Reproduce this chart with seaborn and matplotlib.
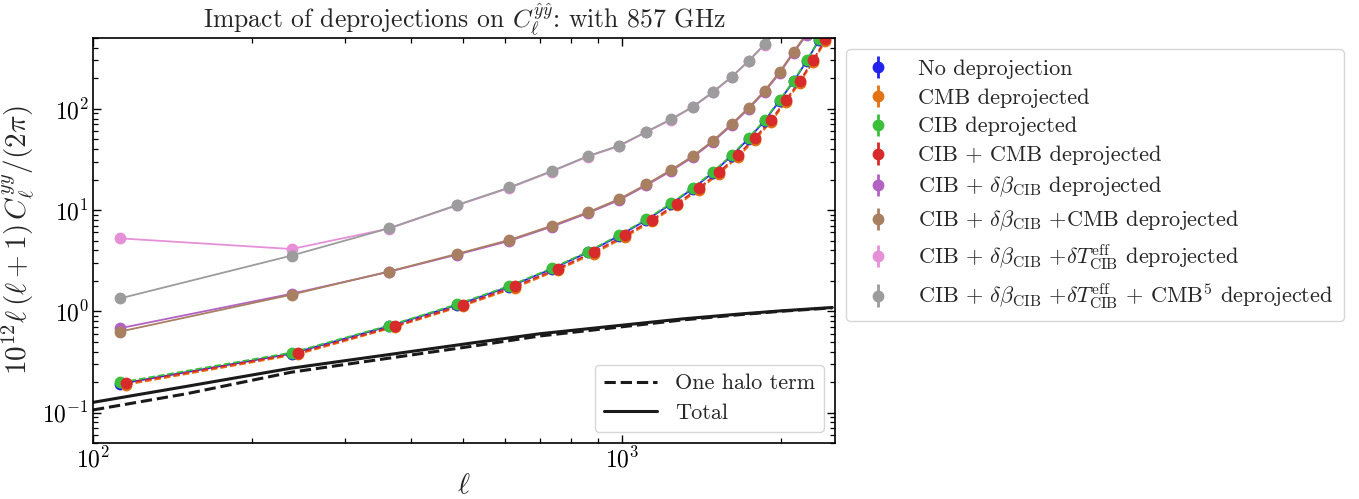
import numpy as np
import matplotlib
matplotlib.use("Agg")
import matplotlib.pyplot as plt
from matplotlib.ticker import LogLocator, NullFormatter
import seaborn as sns

# ---------------- data ----------------
ell = [112.5, 237.5, 362.5, 487.5, 612.5, 737.5, 862.5, 987.5, 1112.5, 1237.5,
       1362.5, 1487.5, 1612.5, 1737.5, 1862.5, 1987.5, 2112.5, 2237.5, 2362.5, 2487.5]

no_dep   = [0.192, 0.382, 0.712, 1.15, 1.75, 2.62, 3.82, 5.55, 7.95, 11.4,
            16.3, 23.4, 34.2, 50.8, 76.0, 120, 186, 297, 480, 770]
cmb_dep  = [0.188, 0.376, 0.700, 1.13, 1.71, 2.56, 3.72, 5.40, 7.75, 11.1,
            15.9, 22.8, 33.2, 49.3, 73.5, 116, 180, 288, 465, 745]
cib_dep  = [0.198, 0.391, 0.722, 1.17, 1.78, 2.66, 3.88, 5.66, 8.09, 11.6,
            16.6, 23.9, 34.9, 51.8, 77.4, 122, 189, 302, 488, 785]
cib_cmb  = [0.194, 0.386, 0.715, 1.16, 1.77, 2.64, 3.86, 5.62, 8.05, 11.55,
            16.5, 23.8, 34.7, 51.5, 77.0, 121, 188, 300, 485, 780]
cib_beta = [0.68, 1.49, 2.45, 3.62, 4.95, 6.85, 9.3, 12.5, 17.5, 24.2,
            33.3, 47.2, 68.8, 100, 147, 224, 357, 540, 860, 1350]
cib_beta_cmb = [0.63, 1.46, 2.47, 3.68, 5.06, 7.0, 9.5, 12.8, 17.9, 24.8,
                34.1, 48.4, 70.6, 102.5, 151, 230, 366, 555, 880, 1380]
cib_beta_T = [5.25, 4.12, 6.55, 11.1, 16.5, 24.0, 33.7, 42.7, 58.7, 77.7,
              104, 145, 205, 295, 430, 640, 950, 1400, 2100, 3100]
cib_beta_T_cmb = [1.34, 3.55, 6.6, 11.2, 16.7, 24.3, 34.1, 43.2, 59.4, 78.6,
                  105, 147, 207, 298, 435, 645, 960, 1420, 2130, 3150]

ell_theory = [100, 150, 237, 350, 516, 700, 1081, 1300, 1671, 2000, 2500]
total      = [0.126, 0.181, 0.274, 0.364, 0.483, 0.60, 0.76, 0.84, 0.94, 1.01, 1.09]
one_halo   = [0.106, 0.153, 0.250, 0.335, 0.448, 0.57, 0.735, 0.82, 0.925, 1.0, 1.08]

labels = [
    "No deprojection",
    "CMB deprojected",
    "CIB deprojected",
    "CIB + CMB deprojected",
    r"CIB + $\delta\beta_{\rm CIB}$ deprojected",
    r"CIB + $\delta\beta_{\rm CIB}$ +CMB deprojected",
    r"CIB + $\delta\beta_{\rm CIB}$ +$\delta T_{\rm CIB}^{\rm eff}$ deprojected",
    r"CIB + $\delta\beta_{\rm CIB}$ +$\delta T_{\rm CIB}^{\rm eff}$ + CMB$^5$ deprojected",
]
colors = ["#2323ee", "#e27214", "#3cc03c", "#d82a2a",
          "#b262c2", "#a97f62", "#e690d8", "#9c9c9c"]
shifted = [False, True, False, True, False, False, False, False]
styles = ["-", "--", "--", "--", "-", "-", "-", "-"]
series = [no_dep, cmb_dep, cib_dep, cib_cmb, cib_beta, cib_beta_cmb,
          cib_beta_T, cib_beta_T_cmb]

# ---------------- style ----------------
sns.set_theme(style="ticks")
plt.rcParams.update({
    "font.family": ["serif"],
    "font.serif": ["cmr10", "DejaVu Serif"],
    "mathtext.fontset": "cm",
    "axes.formatter.use_mathtext": True,
    "axes.unicode_minus": False,
    "xtick.direction": "in",
    "ytick.direction": "in",
    "xtick.top": True,
    "ytick.right": True,
    "axes.linewidth": 1.2,
    "axes.edgecolor": "black",
})

fig = plt.figure(figsize=(13.59, 4.99), dpi=100)
ax = fig.add_axes([93 / 1359, 1 - 443 / 499, (835 - 93) / 1359, (443 - 38) / 499])

ell_arr = np.array(ell)
handles = []
for y, c, lab, sh, ls in zip(series, colors, labels, shifted, styles):
    x = ell_arr * (1.027 if sh else 1.0)
    ax.plot(x, y, color=c, ls=ls, lw=1.3)
    h = ax.errorbar(x, y, yerr=np.zeros(len(y)), fmt="o", color=c, ms=7.5,
                    ls="none", elinewidth=2, capsize=0, label=lab)
    handles.append(h)

l1, = ax.plot(ell_theory, one_halo, "k--", lw=2.2, label="One halo term")
l2, = ax.plot(ell_theory, total, "k-", lw=2.2, label="Total")

ax.set_xscale("log")
ax.set_yscale("log")
ax.set_xlim(100, 2530)
ax.set_ylim(0.05, 500)
for axis in (ax.xaxis, ax.yaxis):
    axis.set_minor_locator(LogLocator(base=10, subs=np.arange(2, 10), numticks=20))
    axis.set_minor_formatter(NullFormatter())

ax.tick_params(which="major", length=6, width=1.0, labelsize=17, colors="black", pad=3)
ax.tick_params(which="minor", length=3.5, width=0.9, colors="black")

ax.set_xlabel(r"$\ell$", fontsize=21, labelpad=0)
ax.set_ylabel(r"$10^{12}\ell\,(\ell+1)\,C_\ell^{yy}/(2\pi)$", fontsize=21, labelpad=4)
ax.set_title(r"Impact of deprojections on $C_\ell^{\hat{y}\hat{y}}$: with 857 GHz", fontsize=18.5, pad=4)

leg1 = ax.legend(handles=handles, loc="upper left", bbox_to_anchor=(1.0, 1.0),
                 fontsize=16, frameon=True, handletextpad=0.8, labelspacing=0.42,
                 borderpad=0.45)
leg1.get_frame().set_edgecolor("#cccccc")
ax.add_artist(leg1)
leg2 = ax.legend(handles=[l1, l2], loc="lower right", fontsize=16, frameon=True,
                 handlelength=2.4, labelspacing=0.45)
leg2.get_frame().set_edgecolor("#cccccc")

fig.savefig("out.png", dpi=100)
